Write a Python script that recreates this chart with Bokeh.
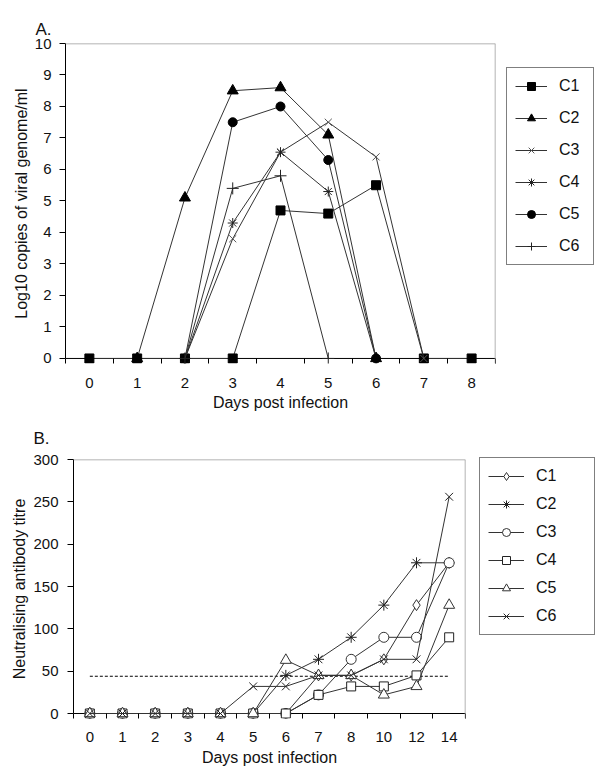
import math
from bokeh.plotting import figure
from bokeh.models import (Range1d, FixedTicker, Legend, LegendItem, Title, Span,
                          ColumnDataSource)
from bokeh.embed import file_html
from bokeh.resources import INLINE

nan = float("nan")

# ---------------- Data: panel A (viral load) ----------------
days_a = [0, 1, 2, 3, 4, 5, 6, 7, 8]
a_c1 = [0, 0, 0, 0, 4.7, 4.6, 5.5, 0, 0]
a_c2 = [nan, 0, 5.1, 8.5, 8.6, 7.1, 0, nan, nan]
a_c3 = [nan, nan, 0, 3.8, 6.55, 7.5, 6.4, 0, nan]
a_c4 = [nan, nan, 0, 4.3, 6.55, 5.3, 0, nan, nan]
a_c5 = [nan, nan, 0, 7.5, 8.0, 6.3, 0, nan, nan]
a_c6 = [nan, nan, 0, 5.4, 5.8, 0, nan, nan, nan]
a_series = ["C1", "C2", "C3", "C4", "C5", "C6"]
a_ticks_y = [0, 1, 2, 3, 4, 5, 6, 7, 8, 9, 10]

# ---------------- Data: panel B (neutralising antibody) ----------------
days_b = ["0", "1", "2", "3", "4", "5", "6", "7", "8", "10", "12", "14"]
b_c1 = [0, 0, 0, 0, 0, 0, 0, 45, 45, 64, 128, 178]
b_c2 = [0, 0, 0, 0, 0, 0, 45, 64, 90, 128, 178, 178]
b_c3 = [0, 0, 0, 0, 0, 0, 0, 22, 64, 90, 90, 178]
b_c4 = [0, 0, 0, 0, 0, 0, 0, 22, 32, 32, 45, 90]
b_c5 = [0, 0, 0, 0, 0, 0, 63, 45, 45, 22, 32, 128]
b_c6 = [0, 0, 0, 0, 0, 32, 32, 45, 45, 64, 64, 256]
b_threshold = 44
b_series = ["C1", "C2", "C3", "C4", "C5", "C6"]
b_ticks_y = [0, 50, 100, 150, 200, 250, 300]

FONT = "Liberation Sans"
TXT = "#111111"
LINE = "#333333"


def base_figure(frame_w, frame_h, xr, yr, left, right, top, bottom):
    p = figure(frame_width=frame_w, frame_height=frame_h, x_range=xr, y_range=yr,
               output_backend="svg", toolbar_location=None,
               min_border_left=left, min_border_right=right,
               min_border_top=top, min_border_bottom=bottom,
               background_fill_color="white", border_fill_color="white")
    p.outline_line_color = None
    p.xgrid.visible = False
    p.ygrid.visible = False
    return p


def style_axes(p, xticks, xminor, yticks, ybounds, xlabel, ylabel, overrides=None,
               xstand=12, ystand=8, xlab_stand=6, ylab_stand=2):
    xa = p.xaxis[0]
    xa.ticker = FixedTicker(ticks=xticks, minor_ticks=xminor)
    xa.axis_line_color = None
    xa.major_tick_line_color = None
    xa.major_tick_in = 0
    xa.major_tick_out = 0
    xa.minor_tick_line_color = "black"
    xa.minor_tick_in = 5
    xa.minor_tick_out = 0
    xa.major_label_standoff = xstand
    xa.major_label_text_font = FONT
    xa.major_label_text_font_size = "15px"
    xa.major_label_text_color = TXT
    xa.axis_label = xlabel
    xa.axis_label_text_font = FONT
    xa.axis_label_text_font_size = "16px"
    xa.axis_label_text_font_style = "normal"
    xa.axis_label_text_color = TXT
    xa.axis_label_standoff = xlab_stand
    if overrides:
        xa.major_label_overrides = overrides

    ya = p.yaxis[0]
    ya.ticker = FixedTicker(ticks=yticks)
    ya.bounds = ybounds
    ya.axis_line_color = "black"
    ya.axis_line_width = 1
    ya.major_tick_line_color = "black"
    ya.major_tick_in = 0
    ya.major_tick_out = 6
    ya.minor_tick_line_color = None
    ya.major_label_standoff = ystand
    ya.major_label_text_font = FONT
    ya.major_label_text_font_size = "15px"
    ya.major_label_text_color = TXT
    ya.axis_label = ylabel
    ya.axis_label_text_font = FONT
    ya.axis_label_text_font_size = "16px"
    ya.axis_label_text_font_style = "normal"
    ya.axis_label_text_color = TXT
    ya.axis_label_standoff = ylab_stand


def frame_lines(p, xmax, ymax):
    p.add_layout(Span(location=0, dimension="width", line_color="black",
                      line_width=1, level="underlay"))
    p.add_layout(Span(location=ymax, dimension="width", line_color="#9a9a9a",
                      line_width=1.5))
    p.add_layout(Span(location=xmax, dimension="height", line_color="#9a9a9a",
                      line_width=1.5))


def make_legend(p, items, loc, spacing, glyph_w, label_w):
    lg = Legend(items=items, location=loc)
    lg.border_line_color = "black"
    lg.border_line_width = 1.2
    lg.background_fill_color = "white"
    lg.background_fill_alpha = 1
    lg.padding = 8
    lg.margin = 0
    lg.spacing = spacing
    lg.glyph_height = 20
    lg.glyph_width = glyph_w
    lg.label_height = 20
    lg.label_width = label_w
    lg.label_standoff = 12
    lg.label_text_font = FONT
    lg.label_text_font_size = "16px"
    lg.label_text_color = TXT
    p.add_layout(lg, "right")


def panel_title(p, text, offset, standoff):
    p.add_layout(Title(text=text, align="left", offset=offset, standoff=standoff,
                       text_font=FONT, text_font_size="17px",
                       text_font_style="normal", text_color=TXT), "above")


# ================= Panel A =================
pa = base_figure(430, 320, Range1d(-0.5, 8.5), Range1d(-0.16, 10),
                 65, 97, 43, 50)
style_axes(pa, days_a, [d - 0.5 for d in days_a] + [days_a[-1] + 0.5],
           a_ticks_y, (0, 10), "Days post infection",
           "Log10 copies of viral genome/ml", xstand=14, xlab_stand=3)
frame_lines(pa, 8.5, 10)

a_vals = [a_c1, a_c2, a_c3, a_c4, a_c5, a_c6]
a_markers = [
    dict(marker="square", size=9, fill_color="black", line_color="black"),
    dict(marker="triangle", size=11, fill_color="black", line_color="black"),
    dict(marker="x", size=10, fill_color=None, line_color="#555555"),
    dict(marker="asterisk", size=10, fill_color=None, line_color="#222222"),
    dict(marker="circle", size=9, fill_color="black", line_color="black"),
    dict(marker="cross", size=12, fill_color=None, line_color="#222222"),
]
a_items = []
for name, vals, mk in zip(a_series, a_vals, a_markers):
    src = ColumnDataSource(dict(x=days_a, y=vals))
    ln = pa.line("x", "y", source=src, line_color=LINE, line_width=1)
    sc = pa.scatter("x", "y", source=src, line_width=1, **mk)
    a_items.append(LegendItem(label=name, renderers=[ln, sc]))
make_legend(pa, a_items, (11, 98), 12, 32, 26)
panel_title(pa, "A.", -30, 10)

# ================= Panel B =================
xb = list(range(len(days_b)))
pb = base_figure(392, 259, Range1d(-0.5, len(days_b) - 0.5), Range1d(-5.9, 300),
                 73, 127, 46, 38)
style_axes(pb, xb, [i - 0.5 for i in xb] + [xb[-1] + 0.5], b_ticks_y, (0, 300),
           "Days post infection", "Neutralising antibody titre",
           overrides={i: d for i, d in enumerate(days_b)}, xstand=13, ystand=9,
           xlab_stand=4)
frame_lines(pb, len(days_b) - 0.5, 300)

pb.line([xb[0], xb[-1]], [b_threshold, b_threshold], line_color="black",
        line_width=1, line_dash="3 2")

b_vals = [b_c1, b_c2, b_c3, b_c4, b_c5, b_c6]
b_markers = [
    dict(marker="diamond", size=11, fill_color="white", line_color="#333333"),
    dict(marker="asterisk", size=11, fill_color=None, line_color="#222222"),
    dict(marker="circle", size=10, fill_color="white", line_color="#333333"),
    dict(marker="square", size=9, fill_color="white", line_color="#222222"),
    dict(marker="triangle", size=11, fill_color="white", line_color="#333333"),
    dict(marker="x", size=11, fill_color=None, line_color="#222222"),
]
b_items = []
for name, vals, mk in zip(b_series, b_vals, b_markers):
    src = ColumnDataSource(dict(x=xb, y=vals))
    ln = pb.line("x", "y", source=src, line_color=LINE, line_width=1)
    sc = pb.scatter("x", "y", source=src, line_width=1, **mk)
    b_items.append(LegendItem(label=name, renderers=[ln, sc]))
make_legend(pb, b_items, (14, 83), 8, 36, 50)
panel_title(pb, "B.", -40, 24)

open("out.html", "w").write(file_html([pa, pb], INLINE))
